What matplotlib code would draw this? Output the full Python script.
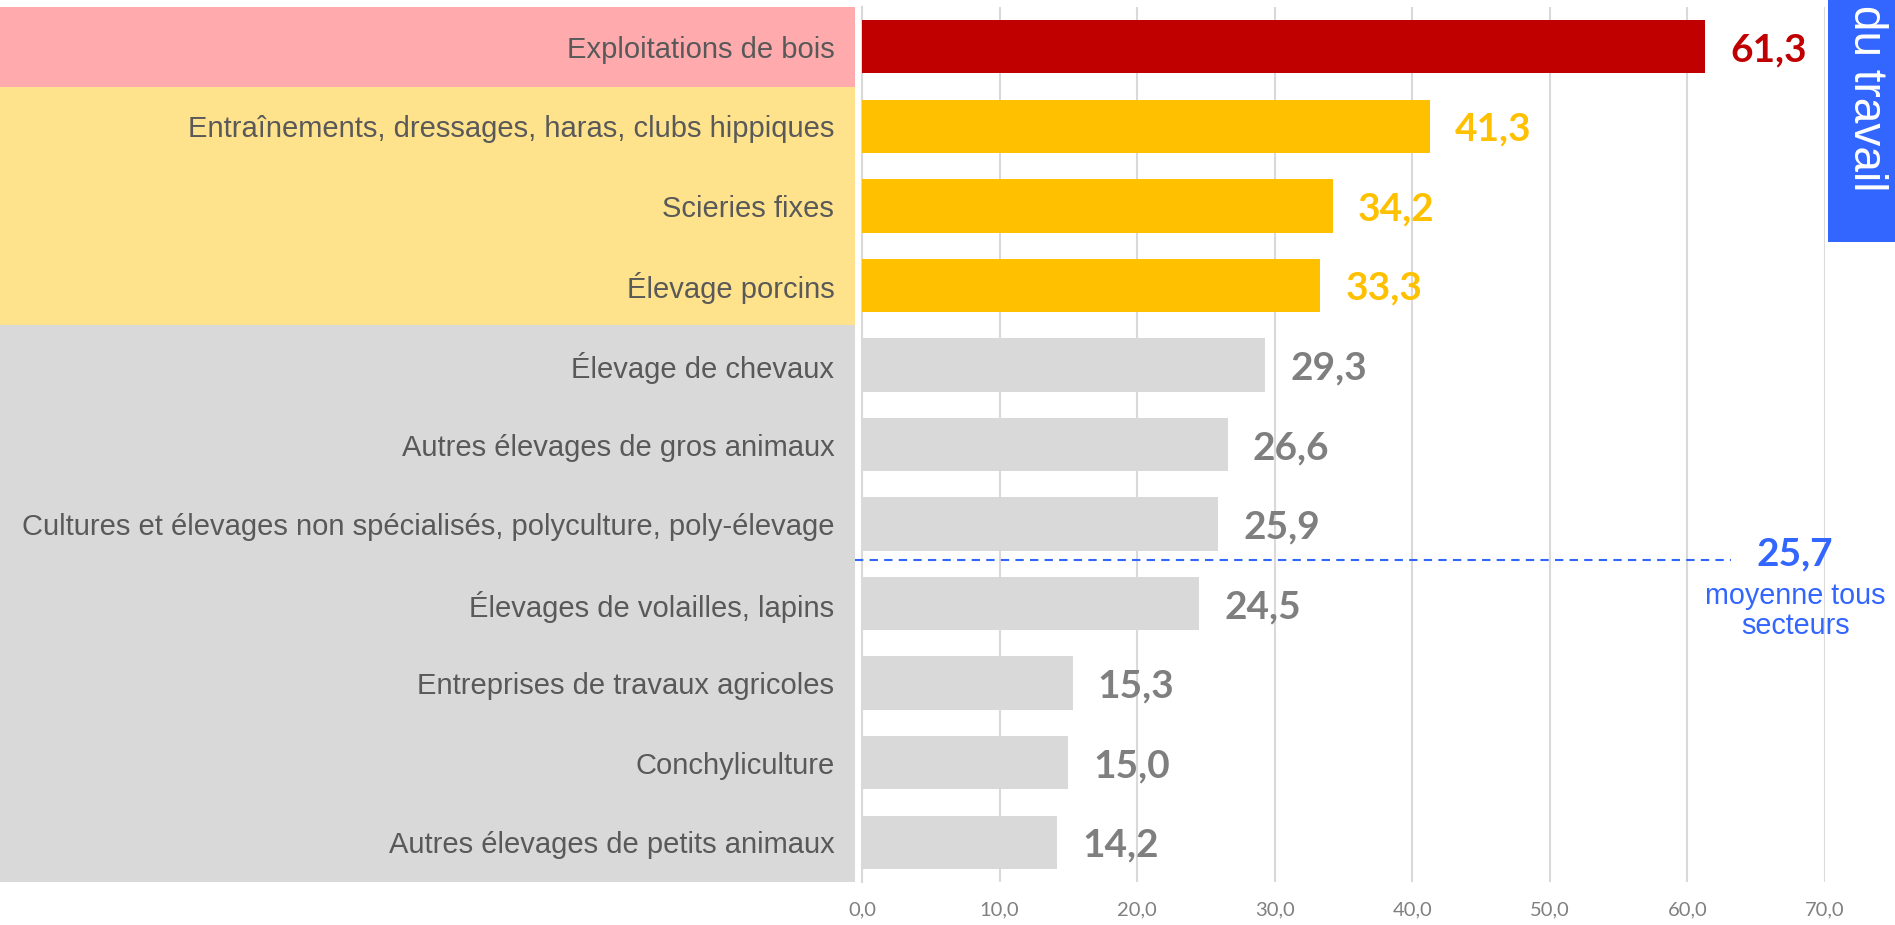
import matplotlib.pyplot as plt
from matplotlib.patches import Rectangle
from matplotlib.transforms import blended_transform_factory

categories = [
    'Exploitations de bois',
    'Entraînements, dressages, haras, clubs hippiques',
    'Scieries fixes',
    'Élevage porcins',
    'Élevage de chevaux',
    'Autres élevages de gros animaux',
    'Cultures et élevages non spécialisés, polyculture, poly-élevage',
    'Élevages de volailles, lapins',
    'Entreprises de travaux agricoles',
    'Conchyliculture',
    'Autres élevages de petits animaux',
]
values = [61.3, 41.3, 34.2, 33.3, 29.3, 26.6, 25.9, 24.5, 15.3, 15.0, 14.2]
groups = ['high', 'mid', 'mid', 'mid', 'low', 'low', 'low', 'low', 'low', 'low', 'low']
average = 25.7
ticks = [0, 10, 20, 30, 40, 50, 60, 70]

bar_colors = {'high': '#C00000', 'mid': '#FFC000', 'low': '#D9D9D9'}
text_colors = {'high': '#C00000', 'mid': '#FFC000', 'low': '#7F7F7F'}
band_colors = {'high': '#FFABAD', 'mid': '#FFE28C', 'low': '#D9D9D9'}
blue = '#3366FF'

fig = plt.figure(figsize=(18.95, 9.25), dpi=100)
ax = fig.add_axes([0.4549, 0.0465, 0.5082, 0.9459])

y = list(range(len(values)))
ax.barh(y, values, height=0.67, color=[bar_colors[g] for g in groups], zorder=3)
ax.set_ylim(len(values) - 0.5, -0.5)
ax.set_xlim(0, 70)

# colored bands behind the category labels
band_tr = blended_transform_factory(fig.transFigure, ax.transData)
for i, g in enumerate(groups):
    ax.add_patch(Rectangle((0, i - 0.5), 855 / 1895, 1.0, transform=band_tr,
                           facecolor=band_colors[g], edgecolor='none',
                           clip_on=False, zorder=0))

ax.set_yticks(y)
ax.set_yticklabels(categories, fontsize=21, color='#595959',
                   family=['Liberation Sans', 'DejaVu Sans'])
ax.tick_params(axis='y', length=0, pad=20)

ax.set_xticks(ticks)
ax.set_xticklabels([f'{t:.1f}'.replace('.', ',') for t in ticks],
                   fontsize=14.5, color='#808080', family=['Lato', 'DejaVu Sans'])
ax.tick_params(axis='x', length=0, pad=14)
ax.grid(axis='x', color='#D9D9D9', linewidth=1.5, zorder=1)

for s in ['top', 'right', 'bottom']:
    ax.spines[s].set_visible(False)
ax.spines['left'].set_color('#D9D9D9')
ax.spines['left'].set_linewidth(1.5)

for i, v in enumerate(values):
    ax.annotate(f'{v:.1f}'.replace('.', ','), (v, i), xytext=(18, 0),
                textcoords='offset points', va='center_baseline', ha='left',
                fontsize=28, fontweight='bold', color=text_colors[groups[i]],
                family=['Lato', 'DejaVu Sans'])

# average line
avg_y = 6.45
line_tr = blended_transform_factory(ax.transAxes, ax.transData)
ax.plot([-0.007, 0.902], [avg_y, avg_y], transform=line_tr, color=blue,
        linestyle=(0, (4, 3)), linewidth=1.5, clip_on=False, zorder=4)
ax.text(0.969, avg_y - 0.11, f'{average:.1f}'.replace('.', ','), transform=line_tr,
        ha='center', va='center_baseline', fontsize=28, fontweight='bold', color=blue,
        family=['Lato', 'DejaVu Sans'], clip_on=False)
ax.text(0.969, avg_y + 0.28, 'moyenne tous\nsecteurs', transform=line_tr,
        ha='center', va='top', fontsize=20.7, color=blue, linespacing=1.1,
        family=['Liberation Sans', 'DejaVu Sans'], clip_on=False)

# clipped title box at top right
box = Rectangle((1828 / 1895, 1 - 242 / 925), 1 - 1828 / 1895, 242 / 925,
                transform=fig.transFigure, facecolor=blue, edgecolor='none', zorder=5)
fig.add_artist(box)
fig.text(1854 / 1895, 1 - 5 / 925, 'du travail', rotation=-90, rotation_mode='anchor',
         ha='left', va='baseline', fontsize=33, color='white',
         family=['Liberation Sans', 'DejaVu Sans'], zorder=6)

fig.savefig('out.png', dpi=100)
